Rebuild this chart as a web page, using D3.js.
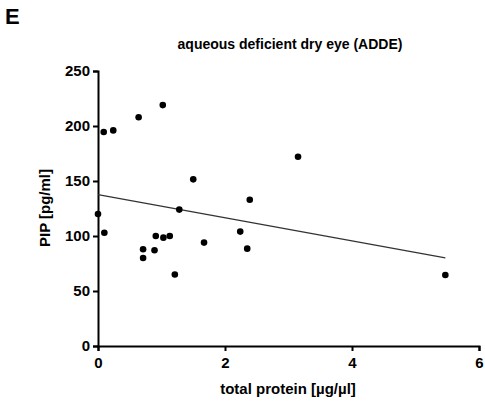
<!DOCTYPE html>
<html><head><meta charset="utf-8">
<script src="https://cdn.jsdelivr.net/npm/d3@7"></script>
<style>body{margin:0;background:#fff}text{font-family:Arial,"Liberation Sans",sans-serif;font-weight:bold}</style>
</head><body><svg id="c" width="485" height="401"></svg>
<script>
const proteinX = [0,0.09,0.24,0.10,0.64,1.02,0.71,0.71,0.89,0.91,1.03,1.13,1.21,1.28,1.50,1.67,2.24,2.35,2.39,3.15,5.47];
const pipY = [120,194.5,196,103,208,219,88,80,87,100,98.5,100,65,124,151.5,94,104,88.5,133,172,64.5];
const fitIntercept = 137.6;
const fitSlope = -10.5;
const xTicks = [0,2,4,6];
const yTicks = [0,50,100,150,200,250];

const svg = d3.select("#c");
const x = d3.scaleLinear().domain([0,6]).range([98,479]);
const y = d3.scaleLinear().domain([0,250]).range([346,71]);

svg.append("g").attr("transform","translate(0,346)")
  .call(d3.axisBottom(x).tickValues(xTicks).tickSize(5).tickFormat(d3.format("d")))
  .call(g=>{g.selectAll("path,line").attr("stroke","#000").attr("stroke-width",2);
    g.selectAll("text").attr("font-size",15).attr("fill","#000").attr("dy","0.9em");});
svg.append("g").attr("transform","translate(98,0)")
  .call(d3.axisLeft(y).tickValues(yTicks).tickSize(5))
  .call(g=>{g.selectAll("path,line").attr("stroke","#000").attr("stroke-width",2);
    g.selectAll("text").attr("font-size",15).attr("fill","#000");});

const xmax = d3.max(proteinX);
svg.append("line").attr("x1",x(0)).attr("x2",x(xmax))
  .attr("y1",y(fitIntercept)).attr("y2",y(fitIntercept+fitSlope*xmax))
  .attr("stroke","#333").attr("stroke-width",1.3);

svg.selectAll("circle").data(proteinX).join("circle")
  .attr("cx",d=>x(d)).attr("cy",(d,i)=>y(pipY[i])).attr("r",3.3).attr("fill","#000");

svg.append("text").attr("x",5).attr("y",24).attr("font-size",22).text("E");
svg.append("text").attr("x",290).attr("y",49).attr("text-anchor","middle").attr("font-size",14).text("aqueous deficient dry eye (ADDE)");
svg.append("text").attr("transform","translate(50,208) rotate(-90)").attr("text-anchor","middle").attr("font-size",15).text("PIP [pg/ml]");
svg.append("text").attr("x",288).attr("y",394).attr("text-anchor","middle").attr("font-size",15).text("total protein [µg/µl]");
</script></body></html>
